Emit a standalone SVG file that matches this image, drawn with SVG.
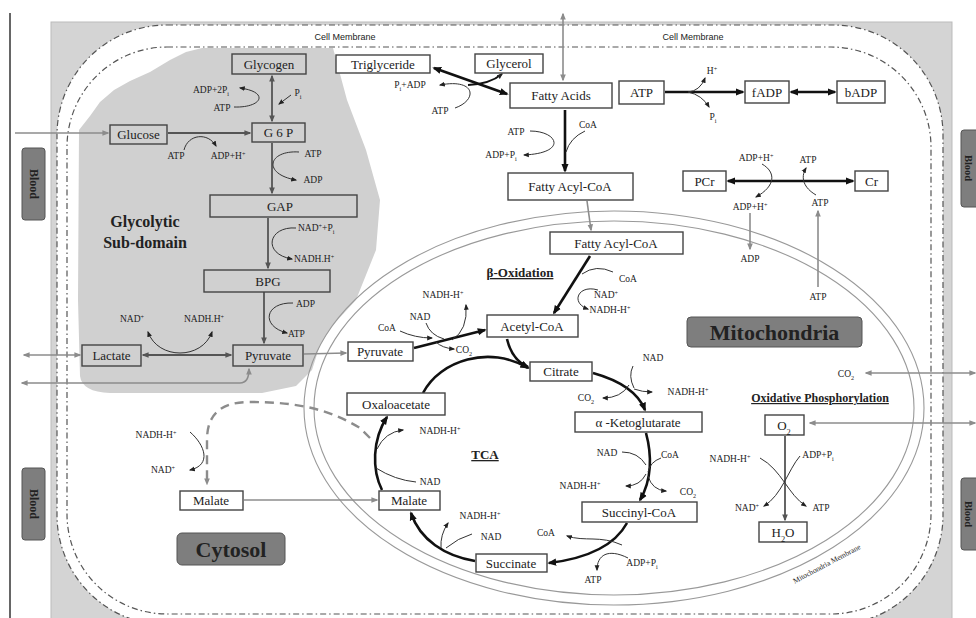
<svg xmlns="http://www.w3.org/2000/svg" width="976" height="618" viewBox="0 0 976 618">
<defs>
<style>
text{font-family:"Liberation Serif","Times New Roman",serif;fill:#222}
.bx{fill:#fff;stroke:#444;stroke-width:1.4}
.gb{fill:#d0d0d0;stroke:#444;stroke-width:1.4}
.t{font-size:13px;text-anchor:middle}
.s{font-size:9.5px;text-anchor:middle}
.ss{font-size:9.5px;text-anchor:start}
.thk{stroke:#111;stroke-width:2.6;fill:none}
.mid{stroke:#555;stroke-width:1.8;fill:none}
.gr{stroke:#8c8c8c;stroke-width:1.6;fill:none}
.rx{stroke:#333;stroke-width:1;fill:none}
.mem{stroke:#555;stroke-width:1.2;stroke-dasharray:6 3 1.5 3}
.lab{fill:#7e7e7e;stroke:#555;stroke-width:1}
.mito{fill:none;stroke:#999;stroke-width:1.1}
.sans{font-family:"Liberation Sans",Arial,sans-serif}
</style>
<marker id="a" viewBox="0 0 10 10" refX="8" refY="5" markerWidth="9" markerHeight="9" markerUnits="userSpaceOnUse" orient="auto-start-reverse"><path d="M0,1 L10,5 L0,9 z" fill="#111"/></marker>
<marker id="d" viewBox="0 0 10 10" refX="8" refY="5" markerWidth="7" markerHeight="7" markerUnits="userSpaceOnUse" orient="auto-start-reverse"><path d="M0,1 L10,5 L0,9 z" fill="#555"/></marker>
<marker id="g" viewBox="0 0 10 10" refX="8" refY="5" markerWidth="7" markerHeight="7" markerUnits="userSpaceOnUse" orient="auto-start-reverse"><path d="M0,1 L10,5 L0,9 z" fill="#8c8c8c"/></marker>
<marker id="s" viewBox="0 0 10 10" refX="8" refY="5" markerWidth="6" markerHeight="6" markerUnits="userSpaceOnUse" orient="auto-start-reverse"><path d="M0,1 L10,5 L0,9 z" fill="#222"/></marker>
</defs>

<!-- background -->
<rect x="0" y="0" width="976" height="618" fill="#fff"/>
<line x1="10" y1="13" x2="10" y2="618" stroke="#333" stroke-width="1.5"/>
<rect x="51" y="22" width="901" height="600" fill="#d4d4d4" stroke="#bbb" stroke-width="1"/>
<rect x="57" y="25" width="886" height="600" rx="110" fill="#fff" class="mem"/>
<rect x="67" y="47" width="864" height="567" rx="100" fill="none" class="mem"/>
<text class="sans" x="345" y="40" font-size="9" text-anchor="middle" fill="#333">Cell Membrane</text>
<text class="sans" x="693" y="40" font-size="9" text-anchor="middle" fill="#333">Cell Membrane</text>

<!-- glycolytic sub-domain blob -->
<path id="blob" d="M79,130 L90,116 L100,102 L114,90 L130,81 L150,72 L170,60 L186,52 L202,48 L333,48 L347,100 L366,150 L380,200 L376,250 L356,300 L332,326 L320,345 L312,370 L296,386 L262,393 L110,393 Q82,392 80,376 L78,300 Z" fill="#d0d0d0"/>
<text x="145" y="227" font-size="16" font-weight="bold" text-anchor="middle" fill="#333">Glycolytic</text>
<text x="145" y="248" font-size="16" font-weight="bold" text-anchor="middle" fill="#333">Sub-domain</text>

<!-- mitochondrion -->
<g id="mitochondrion">
<ellipse cx="614" cy="408" rx="310" ry="197" class="mito"/>
<ellipse cx="614" cy="408" rx="300" ry="187" class="mito"/>
<text transform="translate(828,566) rotate(-28)" font-size="7.5" text-anchor="middle" fill="#444">Mitochondria Membrane</text>
</g>

<!-- connectors -->
<g id="connectors">
<line class="gr" x1="15" y1="133" x2="108" y2="133" marker-end="url(#g)"/>
<line class="mid" x1="168" y1="133" x2="250" y2="133" marker-end="url(#d)"/>
<path class="rx" d="M184,150 C188,134 208,132 216,146" marker-end="url(#s)"/>
<line class="mid" x1="272" y1="76" x2="272" y2="121" marker-start="url(#d)" marker-end="url(#d)"/>
<path class="rx" d="M234,107 C262,108 270,92 240,88" marker-end="url(#s)"/>
<path class="rx" d="M291,95 L279,104" marker-end="url(#s)"/>
<line class="mid" x1="272" y1="143" x2="272" y2="193" marker-end="url(#d)"/>
<path class="rx" d="M299,152 C268,150 262,174 296,180" marker-end="url(#s)"/>
<line class="mid" x1="268" y1="218" x2="268" y2="268" marker-end="url(#d)"/>
<path class="rx" d="M296,228 C268,226 262,254 292,259" marker-end="url(#s)"/>
<line class="mid" x1="264" y1="292" x2="264" y2="343" marker-end="url(#d)"/>
<path class="rx" d="M293,303 C265,302 260,326 287,333" marker-end="url(#s)"/>
<line class="mid" x1="143" y1="355" x2="231" y2="355" marker-start="url(#d)" marker-end="url(#d)"/>
<path class="rx" d="M148,332 C158,360 202,360 212,332" marker-start="url(#s)" marker-end="url(#s)"/>
<line class="gr" x1="24" y1="355" x2="80" y2="355" marker-start="url(#g)" marker-end="url(#g)"/>
<path class="gr" d="M22,383 L240,383 Q249,383 249,369" marker-start="url(#g)" marker-end="url(#g)"/>
<line class="gr" x1="304" y1="354" x2="346" y2="353" marker-end="url(#g)"/>

<line class="thk" x1="434" y1="68" x2="507" y2="94" marker-start="url(#a)" marker-end="url(#a)"/>
<path d="M468,85 Q490,84 502,74" stroke="#111" stroke-width="1.8" fill="none" marker-end="url(#s)"/>
<path class="rx" d="M455,108 C478,100 476,78 440,85" marker-end="url(#s)"/>
<line class="gr" x1="563" y1="14" x2="563" y2="80" marker-start="url(#g)" marker-end="url(#g)"/>
<line class="thk" x1="565" y1="110" x2="565" y2="171" marker-end="url(#a)"/>
<path class="rx" d="M530,131 C558,131 568,153 524,155" marker-end="url(#s)"/>
<path class="rx" d="M585,131 Q570,138 566,152"/>
<line class="gr" x1="587" y1="201" x2="591" y2="230" marker-end="url(#g)"/>
<line class="thk" x1="590" y1="256" x2="554" y2="313" marker-end="url(#a)"/>
<path class="rx" d="M613,272 Q596,264 582,274"/>
<path class="rx" d="M598,290 C578,284 570,303 588,309" marker-end="url(#s)"/>
<line class="thk" x1="414" y1="348" x2="485" y2="330" marker-end="url(#a)"/>
<path class="rx" d="M400,331 Q415,338 432,338" marker-end="url(#s)"/>
<path class="rx" d="M426,323 Q430,335 444,339"/>
<path class="rx" d="M452,340 Q468,330 466,305" marker-end="url(#s)"/>
<path class="rx" d="M436,342 Q442,348 454,349" marker-end="url(#s)"/>

<path class="thk" d="M507,339 Q512,360 528,367" marker-end="url(#a)"/>
<path class="thk" d="M423,393 C440,360 490,345 528,368" marker-end="url(#a)"/>
<path class="thk" d="M593,373 C618,380 638,392 645,410" marker-end="url(#a)"/>
<path class="rx" d="M633,366 Q628,376 634,388"/>
<path class="rx" d="M634,389 Q642,392 652,392" marker-end="url(#s)"/>
<path class="rx" d="M629,385 Q621,398 603,398" marker-end="url(#s)"/>
<path class="thk" d="M646,433 C652,455 652,480 640,500" marker-end="url(#a)"/>
<path class="rx" d="M622,452 Q638,452 646,465"/>
<path class="rx" d="M661,458 Q650,462 648,472"/>
<path class="rx" d="M646,474 Q640,486 626,486" marker-end="url(#s)"/>
<path class="rx" d="M648,476 Q652,490 666,491" marker-end="url(#s)"/>
<path class="thk" d="M627,523 C615,545 590,558 549,563" marker-end="url(#a)"/>
<path class="rx" d="M622,545 C600,535 585,542 567,536" marker-end="url(#s)"/>
<path class="rx" d="M628,558 C608,548 597,555 597,570" marker-end="url(#s)"/>
<path class="thk" d="M475,561 C445,556 420,540 411,513" marker-end="url(#a)"/>
<path class="rx" d="M441,548 Q440,535 448,523" marker-end="url(#s)"/>
<path class="rx" d="M472,534 Q458,538 446,548"/>
<path class="thk" d="M382,490 C372,470 372,440 387,417" marker-end="url(#a)"/>
<path class="rx" d="M377,449 Q385,432 403,430" marker-end="url(#s)"/>
<path class="rx" d="M416,482 Q395,480 376,468"/>
<line class="gr" x1="244" y1="500" x2="377" y2="500" marker-end="url(#g)"/>
<path d="M370,438 L360,428 C330,410 300,402 250,402 C220,402 207,415 207,440 L207,484" stroke="#8c8c8c" stroke-width="2.4" fill="none" stroke-dasharray="9 6" marker-end="url(#g)"/>
<path class="rx" d="M190,432 C205,445 212,465 190,470" marker-end="url(#s)"/>

<line class="thk" x1="665" y1="92" x2="743" y2="92" marker-end="url(#a)"/>
<path class="rx" d="M688,92 Q700,91 705,78" marker-end="url(#s)"/>
<path class="rx" d="M688,92 Q702,95 709,107" marker-end="url(#s)"/>
<line class="thk" x1="791" y1="92" x2="835" y2="92" marker-start="url(#a)" marker-end="url(#a)"/>
<line class="thk" x1="728" y1="181" x2="853" y2="181" marker-start="url(#a)" marker-end="url(#a)"/>
<path class="rx" d="M762,164 C776,172 776,186 756,197" marker-end="url(#s)"/>
<path class="rx" d="M816,195 C804,188 800,178 806,168" marker-end="url(#s)"/>
<line class="gr" x1="750" y1="213" x2="750" y2="249" marker-end="url(#g)"/>
<line class="gr" x1="818" y1="287" x2="818" y2="211" marker-end="url(#g)"/>
<line class="gr" x1="866" y1="373" x2="975" y2="373" marker-start="url(#g)" marker-end="url(#g)"/>
<line class="gr" x1="810" y1="423" x2="975" y2="423" marker-start="url(#g)" marker-end="url(#g)"/>
<line class="mid" x1="785" y1="436" x2="785" y2="520" marker-end="url(#d)"/>
<path class="rx" d="M760,458 C782,470 788,495 806,506" marker-end="url(#s)"/>
<path class="rx" d="M800,456 C788,470 782,495 764,506" marker-end="url(#s)"/>
</g>

<!-- reaction labels -->
<g id="labels">
<text class="s" x="176" y="159">ATP</text>
<text class="s" x="228" y="159">ADP+H<tspan baseline-shift="super" font-size="65%">+</tspan></text>
<text class="s" x="211" y="93">ADP+2P<tspan baseline-shift="sub" font-size="65%">i</tspan></text>
<text class="s" x="222" y="111">ATP</text>
<text class="s" x="298" y="96">P<tspan baseline-shift="sub" font-size="65%">i</tspan></text>
<text class="s" x="313" y="157">ATP</text>
<text class="s" x="313" y="183">ADP</text>
<text class="ss" x="298" y="231">NAD<tspan baseline-shift="super" font-size="65%">+</tspan>+P<tspan baseline-shift="sub" font-size="65%">i</tspan></text>
<text class="ss" x="294" y="262">NADH.H<tspan baseline-shift="super" font-size="65%">+</tspan></text>
<text class="ss" x="296" y="307">ADP</text>
<text class="ss" x="288" y="337">ATP</text>
<text class="s" x="132" y="322">NAD<tspan baseline-shift="super" font-size="65%">+</tspan></text>
<text class="s" x="204" y="322">NADH.H<tspan baseline-shift="super" font-size="65%">+</tspan></text>
<text class="s" x="410" y="88" font-size="8.5">P<tspan baseline-shift="sub" font-size="65%">i</tspan>+ADP</text>
<text class="s" x="440" y="114">ATP</text>
<text class="s" x="516" y="135">ATP</text>
<text class="s" x="501" y="158">ADP+P<tspan baseline-shift="sub" font-size="65%">i</tspan></text>
<text class="s" x="588" y="128">CoA</text>
<text x="520" y="277" font-size="13" font-weight="bold" text-anchor="middle" text-decoration="underline">β-Oxidation</text>
<text class="s" x="628" y="282">CoA</text>
<text class="s" x="606" y="298">NAD<tspan baseline-shift="super" font-size="65%">+</tspan></text>
<text class="s" x="610" y="313">NADH-H<tspan baseline-shift="super" font-size="65%">+</tspan></text>
<text class="s" x="443" y="298">NADH-H<tspan baseline-shift="super" font-size="65%">+</tspan></text>
<text class="s" x="420" y="320">NAD</text>
<text class="s" x="387" y="331">CoA</text>
<text class="s" x="464" y="353">CO<tspan baseline-shift="sub" font-size="65%">2</tspan></text>
<text class="s" x="653" y="361">NAD</text>
<text class="s" x="688" y="395">NADH-H<tspan baseline-shift="super" font-size="65%">+</tspan></text>
<text class="s" x="586" y="401">CO<tspan baseline-shift="sub" font-size="65%">2</tspan></text>
<text class="s" x="607" y="456">NAD</text>
<text class="s" x="670" y="458">CoA</text>
<text class="s" x="580" y="489">NADH-H<tspan baseline-shift="super" font-size="65%">+</tspan></text>
<text class="s" x="688" y="495" font-size="11">CO<tspan baseline-shift="sub" font-size="65%">2</tspan></text>
<text class="s" x="546" y="536">CoA</text>
<text class="s" x="642" y="566">ADP+P<tspan baseline-shift="sub" font-size="65%">i</tspan></text>
<text class="s" x="593" y="583">ATP</text>
<text class="s" x="480" y="519">NADH-H<tspan baseline-shift="super" font-size="65%">+</tspan></text>
<text class="s" x="491" y="540">NAD</text>
<text class="s" x="440" y="434">NADH-H<tspan baseline-shift="super" font-size="65%">+</tspan></text>
<text class="s" x="430" y="485">NAD</text>
<text x="485" y="459" font-size="13" font-weight="bold" text-anchor="middle" text-decoration="underline">TCA</text>
<text class="s" x="156" y="438">NADH-H<tspan baseline-shift="super" font-size="65%">+</tspan></text>
<text class="s" x="163" y="473">NAD<tspan baseline-shift="super" font-size="65%">+</tspan></text>
<text class="s" x="712" y="74" font-size="11">H<tspan baseline-shift="super" font-size="65%">+</tspan></text>
<text class="s" x="713" y="120" font-size="11">P<tspan baseline-shift="sub" font-size="65%">i</tspan></text>
<text class="s" x="756" y="161">ADP+H<tspan baseline-shift="super" font-size="65%">+</tspan></text>
<text class="s" x="808" y="163">ATP</text>
<text class="s" x="750" y="210">ADP+H<tspan baseline-shift="super" font-size="65%">+</tspan></text>
<text class="s" x="820" y="206">ATP</text>
<text class="s" x="750" y="262">ADP</text>
<text class="s" x="818" y="300">ATP</text>
<text class="s" x="846" y="377">CO<tspan baseline-shift="sub" font-size="65%">2</tspan></text>
<text x="820" y="402" font-size="12" font-weight="bold" text-anchor="middle" fill="#555" text-decoration="underline">Oxidative Phosphorylation</text>
<text class="s" x="730" y="462">NADH-H<tspan baseline-shift="super" font-size="65%">+</tspan></text>
<text class="s" x="818" y="458">ADP+P<tspan baseline-shift="sub" font-size="65%">i</tspan></text>
<text class="s" x="747" y="511">NAD<tspan baseline-shift="super" font-size="65%">+</tspan></text>
<text class="s" x="821" y="511">ATP</text>
</g>

<!-- nodes -->
<g id="glycogen"><rect class="gb" x="232" y="54" width="74" height="20"/><text class="t" x="269" y="68.5">Glycogen</text></g>
<g id="g6p"><rect class="gb" x="252" y="123" width="53" height="19"/><text class="t" x="278.5" y="137">G 6 P</text></g>
<g id="glucose"><rect class="gb" x="110" y="125" width="57" height="19"/><text class="t" x="138.5" y="139">Glucose</text></g>
<g id="gap"><rect class="gb" x="210" y="195" width="147" height="22"/><text class="t" x="280" y="211">GAP</text></g>
<g id="bpg"><rect class="gb" x="204" y="270" width="126" height="22"/><text class="t" x="268" y="286">BPG</text></g>
<g id="pyruvate-cyto"><rect class="gb" x="233" y="345" width="70" height="21"/><text class="t" x="268" y="360">Pyruvate</text></g>
<g id="lactate"><rect class="gb" x="82" y="345" width="59" height="21"/><text class="t" x="111.5" y="360">Lactate</text></g>
<g id="triglyceride"><rect class="bx" x="336" y="55" width="94" height="18"/><text class="t" x="383" y="69">Triglyceride</text></g>
<g id="glycerol"><rect class="bx" x="475" y="54" width="68" height="19"/><text class="t" x="509" y="68">Glycerol</text></g>
<g id="fatty-acids"><rect class="bx" x="510" y="83" width="102" height="25"/><text class="t" x="561" y="100" font-size="14">Fatty Acids</text></g>
<g id="atp"><rect class="bx" x="619" y="81" width="45" height="23"/><text class="t" x="641.5" y="97" font-size="14">ATP</text></g>
<g id="fadp"><rect class="bx" x="745" y="81" width="44" height="22"/><text class="t" x="767" y="97" font-size="14">fADP</text></g>
<g id="badp"><rect class="bx" x="837" y="81" width="48" height="22"/><text class="t" x="861" y="97" font-size="14">bADP</text></g>
<g id="fatty-acyl-coa-cyto"><rect class="bx" x="508" y="173" width="125" height="27"/><text class="t" x="570" y="191" font-size="14">Fatty Acyl-CoA</text></g>
<g id="fatty-acyl-coa-mito"><rect class="bx" x="550" y="232" width="133" height="22"/><text class="t" x="616" y="248" font-size="14">Fatty Acyl-CoA</text></g>
<g id="acetyl-coa"><rect class="bx" x="487" y="315" width="91" height="22"/><text class="t" x="532" y="331" font-size="14">Acetyl-CoA</text></g>
<g id="pyruvate-mito"><rect class="bx" x="348" y="342" width="65" height="19"/><text class="t" x="380" y="356">Pyruvate</text></g>
<g id="citrate"><rect class="bx" x="530" y="362" width="62" height="19"/><text class="t" x="561" y="376">Citrate</text></g>
<g id="oxaloacetate"><rect class="bx" x="347" y="393" width="98" height="22"/><text class="t" x="396" y="409">Oxaloacetate</text></g>
<g id="a-ketoglutarate"><rect class="bx" x="575" y="412" width="127" height="20"/><text class="t" x="638" y="427">α -Ketoglutarate</text></g>
<g id="succinyl-coa"><rect class="bx" x="582" y="502" width="115" height="20"/><text class="t" x="639" y="517" font-size="14">Succinyl-CoA</text></g>
<g id="succinate"><rect class="bx" x="476" y="554" width="71" height="18"/><text class="t" x="511" y="568">Succinate</text></g>
<g id="malate-mito"><rect class="bx" x="379" y="491" width="61" height="19"/><text class="t" x="409" y="505">Malate</text></g>
<g id="malate-cyto"><rect class="bx" x="180" y="491" width="63" height="19"/><text class="t" x="211" y="505">Malate</text></g>
<g id="pcr"><rect class="bx" x="683" y="171" width="43" height="20"/><text class="t" x="704.5" y="186" font-size="14">PCr</text></g>
<g id="cr"><rect class="bx" x="855" y="171" width="33" height="20"/><text class="t" x="871.5" y="186" font-size="14">Cr</text></g>
<g id="o2"><rect class="bx" x="765" y="415" width="39" height="20"/><text class="t" x="784" y="430">O<tspan baseline-shift="sub" font-size="65%">2</tspan></text></g>
<g id="h2o"><rect class="bx" x="759" y="522" width="48" height="20"/><text class="t" x="783" y="537">H<tspan baseline-shift="sub" font-size="65%">2</tspan>O</text></g>

<g id="cytosol-label"><rect class="lab" x="177" y="533" width="108" height="32" rx="5"/><text x="231" y="557" font-size="22" font-weight="bold" text-anchor="middle" fill="#111">Cytosol</text></g>
<g id="mitochondria-label"><rect class="lab" x="687" y="317" width="175" height="30" rx="4"/><text x="774.5" y="340" font-size="22" font-weight="bold" text-anchor="middle" fill="#111">Mitochondria</text></g>

<g id="blood-1"><rect class="lab" x="22" y="148" width="23" height="72" rx="3"/><text transform="translate(33.5,184) rotate(90)" font-size="12" font-weight="bold" text-anchor="middle" dominant-baseline="central" fill="#111">Blood</text></g>
<g id="blood-2"><rect class="lab" x="22" y="468" width="23" height="72" rx="3"/><text transform="translate(33.5,504) rotate(90)" font-size="12" font-weight="bold" text-anchor="middle" dominant-baseline="central" fill="#111">Blood</text></g>
<g id="blood-3"><rect class="lab" x="961" y="130" width="20" height="77" rx="3"/><text transform="translate(968.5,168) rotate(90)" font-size="10.5" font-weight="bold" text-anchor="middle" dominant-baseline="central" fill="#111">Blood</text></g>
<g id="blood-4"><rect class="lab" x="961" y="478" width="20" height="72" rx="3"/><text transform="translate(968.5,514) rotate(90)" font-size="10.5" font-weight="bold" text-anchor="middle" dominant-baseline="central" fill="#111">Blood</text></g>
</svg>
